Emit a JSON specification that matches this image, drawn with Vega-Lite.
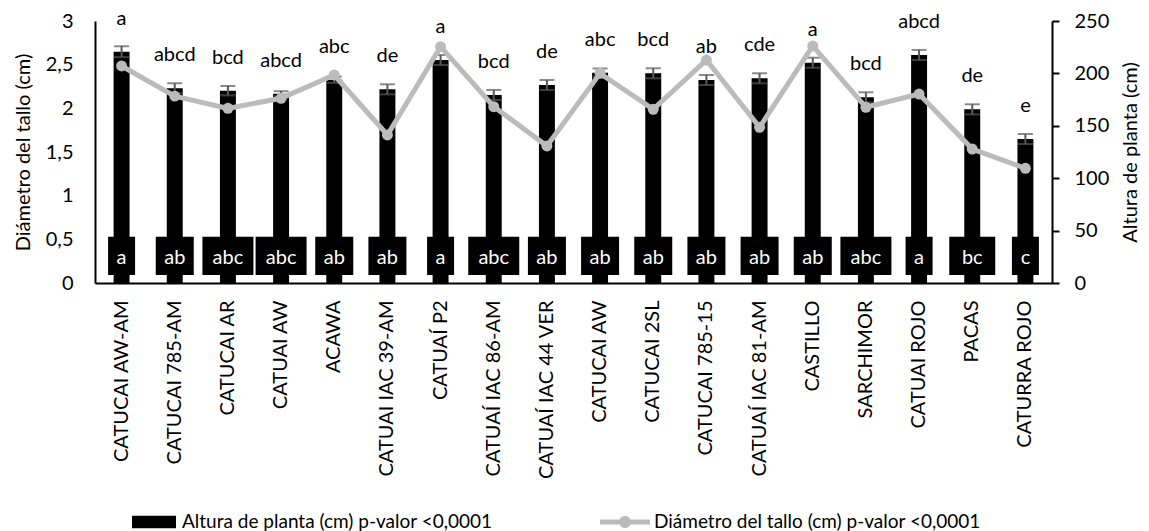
{
  "$schema": "https://vega.github.io/schema/vega-lite/v6.json",
  "width": 957,
  "height": 262,
  "autosize": {"type": "none"},
  "padding": {"left": 95, "top": 21, "right": 97, "bottom": 248},
  "config": {
    "font": "Lato",
    "view": {"stroke": null},
    "axis": {
      "grid": false,
      "labelFont": "Lato",
      "labelFontSize": 20,
      "labelColor": "#000000",
      "titleFont": "Lato",
      "titleFontSize": 20,
      "titleFontWeight": "normal",
      "titleColor": "#000000",
      "domainColor": "#000000",
      "domainWidth": 2,
      "tickColor": "#000000",
      "tickWidth": 2
    },
    "legend": {"labelFont": "Lato", "labelFontSize": 19, "labelColor": "#000000"}
  },
  "data": {
    "values": [
      {"cultivar": "CATUCAI AW-AM", "alt": 220.7, "err": 5.2, "dia": 2.485, "lt": "a", "lb": "a"},
      {"cultivar": "CATUCAI 785-AM", "alt": 185.8, "err": 4.8, "dia": 2.14, "lt": "abcd", "lb": "ab"},
      {"cultivar": "CATUCAI AR", "alt": 183.5, "err": 4.5, "dia": 2.0, "lt": "bcd", "lb": "abc"},
      {"cultivar": "CATUAI AW", "alt": 180.5, "err": 2.5, "dia": 2.115, "lt": "abcd", "lb": "abc"},
      {"cultivar": "ACAWA", "alt": 194.0, "err": 3.0, "dia": 2.382, "lt": "abc", "lb": "ab"},
      {"cultivar": "CATUAI IAC 39-AM", "alt": 184.8, "err": 4.8, "dia": 1.695, "lt": "de", "lb": "ab"},
      {"cultivar": "CATUAÍ P2", "alt": 212.8, "err": 4.8, "dia": 2.706, "lt": "a", "lb": "a"},
      {"cultivar": "CATUAÍ IAC 86-AM", "alt": 179.4, "err": 4.8, "dia": 2.019, "lt": "bcd", "lb": "abc"},
      {"cultivar": "CATUAÍ IAC 44 VER", "alt": 188.9, "err": 4.8, "dia": 1.569, "lt": "de", "lb": "ab"},
      {"cultivar": "CATUCAI AW", "alt": 200.7, "err": 4.0, "dia": 2.401, "lt": "abc", "lb": "ab"},
      {"cultivar": "CATUCAI 2SL", "alt": 200.1, "err": 4.8, "dia": 1.989, "lt": "bcd", "lb": "ab"},
      {"cultivar": "CATUCAI 785-15", "alt": 193.7, "err": 4.8, "dia": 2.553, "lt": "ab", "lb": "ab"},
      {"cultivar": "CATUAÍ IAC 81-AM", "alt": 195.3, "err": 4.8, "dia": 1.783, "lt": "cde", "lb": "ab"},
      {"cultivar": "CASTILLO", "alt": 210.2, "err": 4.8, "dia": 2.714, "lt": "a", "lb": "ab"},
      {"cultivar": "SARCHIMOR", "alt": 177.2, "err": 4.8, "dia": 2.012, "lt": "bcd", "lb": "abc"},
      {"cultivar": "CATUAI ROJO", "alt": 217.6, "err": 4.8, "dia": 2.164, "lt": "abcd", "lb": "a"},
      {"cultivar": "PACAS", "alt": 165.7, "err": 4.8, "dia": 1.534, "lt": "de", "lb": "bc"},
      {"cultivar": "CATURRA ROJO", "alt": 137.4, "err": 4.8, "dia": 1.313, "lt": "e", "lb": "c"}
    ]
  },
  "encoding": {
    "x": {
      "field": "cultivar",
      "type": "nominal",
      "sort": null,
      "scale": {"paddingInner": 0.7, "paddingOuter": 0.35},
      "axis": {
        "title": null,
        "labelAngle": -90,
        "labelPadding": 17,
        "ticks": false,
        "labelLimit": 400
      }
    }
  },
  "layer": [
    {
      "layer": [
        {
          "mark": {"type": "bar", "color": "#000000"},
          "encoding": {
            "y": {
              "field": "alt",
              "type": "quantitative",
              "title": "Altura de planta (cm)",
              "scale": {"domain": [0, 250], "nice": false},
              "axis": {
                "orient": "right",
                "title": "Altura de planta (cm)",
                "titleAngle": 270,
                "titleBaseline": "top",
                "titlePadding": 12,
                "values": [0, 50, 100, 150, 200, 250],
                "tickSize": 7,
                "labelPadding": 15
              }
            },
            "color": {
              "datum": "Altura de planta (cm) p-valor <0,0001",
              "scale": {"range": ["#000000"]},
              "legend": {
                "orient": "none",
                "legendX": 34,
                "legendY": 476,
                "title": null,
                "padding": 0,
                "symbolType": "M-0.88,-0.254H0.88V0.254H-0.88Z",
                "symbolSize": 2500,
                "symbolStrokeWidth": 0,
                "labelOffset": 3,
                "labelLimit": 600
              }
            }
          }
        },
        {
          "mark": {
            "type": "errorbar",
            "color": "#595959",
            "thickness": 2,
            "ticks": {"size": 15, "thickness": 2, "color": "#595959"}
          },
          "encoding": {
            "y": {"field": "alt", "type": "quantitative", "title": "Altura de planta (cm)"},
            "yError": {"field": "err"}
          }
        },
        {
          "mark": {"type": "text", "fontSize": 20, "color": "#000000", "baseline": "middle", "dy": -33},
          "encoding": {
            "y": {"field": "alt", "type": "quantitative", "title": "Altura de planta (cm)"},
            "text": {"field": "lt"}
          }
        },
        {
          "mark": {"type": "bar", "color": "#000000"},
          "encoding": {
            "y": {"datum": 44.2},
            "y2": {"datum": 7.6},
            "size": {
              "field": "lb",
              "type": "nominal",
              "scale": {"type": "ordinal", "domain": ["a", "ab", "abc", "bc", "c"], "range": [27, 38, 51, 46, 27]},
              "legend": null
            }
          }
        },
        {
          "mark": {"type": "text", "fontSize": 20, "color": "#FFFFFF", "baseline": "middle"},
          "encoding": {
            "y": {"datum": 24},
            "text": {"field": "lb"}
          }
        }
      ]
    },
    {
      "layer": [
        {
          "mark": {"type": "line", "color": "#BBBBBB", "strokeWidth": 5},
          "encoding": {
            "y": {
              "field": "dia",
              "type": "quantitative",
              "title": "Diámetro del tallo (cm)",
              "scale": {"domain": [0, 3], "nice": false},
              "axis": {
                "orient": "left",
                "title": "Diámetro del tallo (cm)",
                "titlePadding": 12,
                "values": [0, 0.5, 1, 1.5, 2, 2.5, 3],
                "labelExpr": "replace(format(datum.value, '~g'), '.', ',')",
                "ticks": false,
                "tickSize": 0,
                "labelPadding": 22
              }
            }
          }
        },
        {
          "mark": {"type": "point", "filled": true, "size": 120, "opacity": 1},
          "encoding": {
            "y": {"field": "dia", "type": "quantitative", "title": "Diámetro del tallo (cm)"},
            "color": {
              "datum": "Diámetro del tallo (cm) p-valor <0,0001",
              "scale": {"range": ["#BBBBBB"]},
              "legend": {
                "orient": "none",
                "legendX": 505,
                "legendY": 476,
                "title": null,
                "padding": 0,
                "symbolType": "M-1,-0.1H1V0.1H-1Z M0.24,0A0.24,0.24,0,1,1,-0.24,0A0.24,0.24,0,1,1,0.24,0Z",
                "symbolSize": 2500,
                "symbolStrokeWidth": 0,
                "symbolOpacity": 1,
                "labelOffset": 4,
                "labelLimit": 600
              }
            }
          }
        }
      ]
    }
  ],
  "resolve": {"scale": {"y": "independent", "color": "independent"}}
}
